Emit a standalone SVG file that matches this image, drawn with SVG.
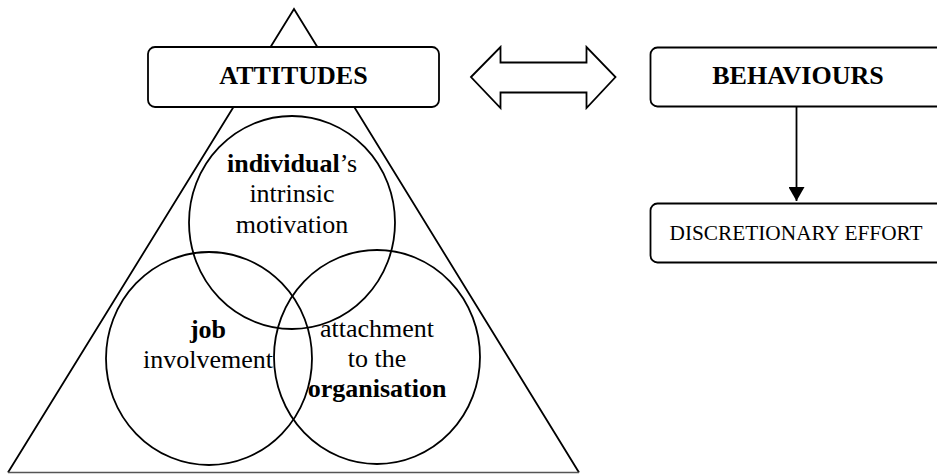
<svg xmlns="http://www.w3.org/2000/svg" width="937" height="474" viewBox="0 0 937 474">
  <style>
    .ln { fill: none; stroke: #000; stroke-width: 1.8; }
    .box { fill: #fff; stroke: #000; stroke-width: 1.8; }
    .t { font-family: "Liberation Serif", "Times New Roman", serif; fill: #000; text-anchor: middle; }
    .big { font-size: 26px; }
    .b { font-weight: bold; }
  </style>
  <defs>
    <marker id="arrowHead" viewBox="0 0 14 16" refX="14" refY="8" markerWidth="14" markerHeight="16" markerUnits="userSpaceOnUse" orient="auto">
      <path d="M0,0 L14,8 L0,16 Z" fill="#000"/>
    </marker>
  </defs>

  <!-- attitudes pyramid -->
  <g id="pyramid">
    <path class="ln" d="M8,472.5 L294,9 L579,472.5"/>
    <line x1="8" y1="472.5" x2="579" y2="472.5" stroke="#555" stroke-width="1.4"/>
  </g>

  <g id="attitudes">
    <rect class="box" x="148" y="47" width="291" height="60" rx="7"/>
    <text class="t big b" x="293.5" y="84">ATTITUDES</text>
  </g>

  <!-- three overlapping components -->
  <g id="intrinsic-motivation">
    <ellipse class="ln" cx="292" cy="222.5" rx="103" ry="106.5"/>
    <text class="t big" x="292" y="172"><tspan class="b">individual</tspan>’s</text>
    <text class="t big" x="292" y="202">intrinsic</text>
    <text class="t big" x="292" y="233">motivation</text>
  </g>

  <g id="job-involvement">
    <ellipse class="ln" cx="209" cy="358.5" rx="103" ry="106.5"/>
    <text class="t big b" x="208" y="338">job</text>
    <text class="t big" x="208" y="368">involvement</text>
  </g>

  <g id="organisation-attachment">
    <ellipse class="ln" cx="377" cy="357" rx="103" ry="107"/>
    <text class="t big" x="377" y="337">attachment</text>
    <text class="t big" x="377" y="367">to the</text>
    <text class="t big b" x="377" y="397">organisation</text>
  </g>

  <g id="behaviours">
    <rect class="box" x="650.5" y="47.5" width="300" height="59" rx="7"/>
    <text class="t big b" x="798" y="84">BEHAVIOURS</text>
  </g>

  <g id="discretionary-effort">
    <rect class="box" x="650.5" y="203.5" width="300" height="59" rx="7"/>
    <text class="t" x="796" y="240" font-size="21.3">DISCRETIONARY EFFORT</text>
  </g>

  <g id="connectors">
    <!-- two-way block arrow between attitudes and behaviours -->
    <path class="box" d="M471,77 L500.5,47 L500.5,62.5 L586.5,62.5 L586.5,47 L615.5,77 L586.5,108 L586.5,92.5 L500.5,92.5 L500.5,108 Z"/>
    <line class="ln" x1="796.5" y1="106.5" x2="796.5" y2="201" marker-end="url(#arrowHead)"/>
  </g>
</svg>
